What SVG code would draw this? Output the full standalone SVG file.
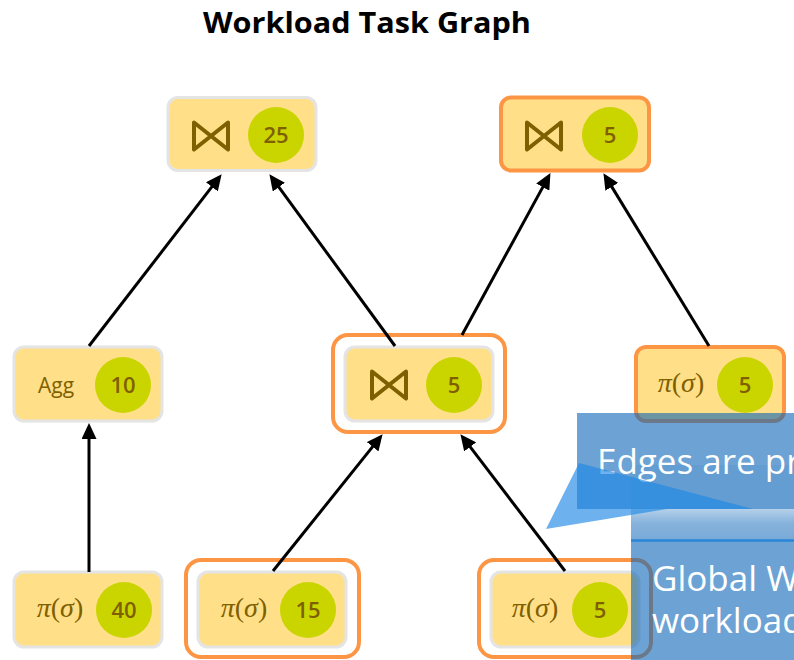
<svg xmlns="http://www.w3.org/2000/svg" width="794" height="660" viewBox="0 0 794 660">
  <defs>
    <style>
      .title{font-family:"Open Sans","Noto Sans","Liberation Sans",sans-serif;font-size:29px;font-weight:700;fill:#000;text-anchor:middle}
      .box{fill:#FFDF88;stroke:#E4E4E4;stroke-width:3}
      .box.hot{stroke:#FD9644;stroke-width:4}
      .ring{fill:none;stroke:#FD9644;stroke-width:4}
      .cost{fill:#CAD500}
      .num{font-family:"Open Sans","Noto Sans","Liberation Sans",sans-serif;font-size:22px;font-weight:600;fill:#7F6000;text-anchor:middle}
      .lbl{font-family:"Open Sans","Noto Sans","Liberation Sans",sans-serif;font-size:21px;fill:#7F6000;text-anchor:middle}
      .op{font-family:"Liberation Serif","DejaVu Serif",serif;font-size:28px;fill:#7F6000;text-anchor:middle}
      .join{fill:none;stroke:#7F6000;stroke-width:4;stroke-linejoin:round}
      .edge{stroke:#000;stroke-width:3;fill:none;marker-end:url(#arrow)}
      .callout{fill:#0A64B8;fill-opacity:0.6}
      .note{font-family:"Open Sans","Noto Sans","Liberation Sans",sans-serif;font-size:35px;fill:#fff}
    </style>
    <marker id="arrow" markerUnits="userSpaceOnUse" viewBox="0 -7.5 16 15" refX="4" refY="0" markerWidth="16" markerHeight="15" orient="auto">
      <path d="M0,-7.5 L16,0 L0,7.5 z" fill="#000"/>
    </marker>
    <path id="bowtie" class="join" d="M-17,-13.5 L17,13.5 L17,-13.5 L-17,13.5 Z"/>
    <linearGradient id="fadeTop" x1="0" y1="0" x2="0" y2="1">
      <stop offset="0" stop-color="#fff" stop-opacity="0.5"/>
      <stop offset="0.45" stop-color="#fff" stop-opacity="0.18"/>
      <stop offset="1" stop-color="#fff" stop-opacity="0.08"/>
    </linearGradient>
  </defs>

  <text class="title" x="367" y="33" textLength="328" lengthAdjust="spacingAndGlyphs">Workload Task Graph</text>

  <!-- top row: joins -->
  <g id="join-top-left">
    <rect class="box" x="168" y="97.5" width="148" height="73" rx="10"/>
    <use href="#bowtie" x="211" y="136"/>
    <circle class="cost" cx="276" cy="135" r="28"/>
    <text class="num" x="276" y="143">25</text>
  </g>
  <g id="join-top-right">
    <rect class="box hot" x="501" y="97.5" width="148" height="73" rx="10"/>
    <use href="#bowtie" x="544" y="136"/>
    <circle class="cost" cx="610" cy="135" r="28"/>
    <text class="num" x="610" y="143">5</text>
  </g>

  <!-- middle row -->
  <g id="agg">
    <rect class="box" x="14" y="347" width="148" height="74" rx="10"/>
    <text class="lbl" x="56" y="393">Agg</text>
    <circle class="cost" cx="123" cy="385" r="28"/>
    <text class="num" x="123" y="393">10</text>
  </g>
  <g id="join-mid">
    <rect class="ring" x="333" y="335" width="172" height="97" rx="15"/>
    <rect class="box" x="345" y="347" width="148" height="74" rx="10"/>
    <use href="#bowtie" x="389" y="385"/>
    <circle class="cost" cx="454" cy="385" r="28"/>
    <text class="num" x="454" y="393">5</text>
  </g>
  <g id="scan-mid-right">
    <rect class="box hot" x="636" y="347" width="148" height="74" rx="10"/>
    <text class="op" x="681" y="392"><tspan font-style="italic">π</tspan>(<tspan font-style="italic">σ</tspan>)</text>
    <circle class="cost" cx="745" cy="385" r="28"/>
    <text class="num" x="745" y="393">5</text>
  </g>

  <!-- bottom row: scans -->
  <g id="scan-40">
    <rect class="box" x="14" y="572" width="148" height="75" rx="10"/>
    <text class="op" x="60" y="617"><tspan font-style="italic">π</tspan>(<tspan font-style="italic">σ</tspan>)</text>
    <circle class="cost" cx="124" cy="610" r="28"/>
    <text class="num" x="124" y="618">40</text>
  </g>
  <g id="scan-15">
    <rect class="ring" x="186" y="560" width="173" height="97" rx="15"/>
    <rect class="box" x="198" y="572" width="148" height="75" rx="10"/>
    <text class="op" x="244" y="617"><tspan font-style="italic">π</tspan>(<tspan font-style="italic">σ</tspan>)</text>
    <circle class="cost" cx="308" cy="610" r="28"/>
    <text class="num" x="308" y="618">15</text>
  </g>
  <g id="scan-5">
    <rect class="ring" x="479" y="560" width="172" height="97" rx="15"/>
    <rect class="box" x="491" y="572" width="148" height="75" rx="10"/>
    <text class="op" x="535" y="617"><tspan font-style="italic">π</tspan>(<tspan font-style="italic">σ</tspan>)</text>
    <circle class="cost" cx="600" cy="610" r="28"/>
    <text class="num" x="600" y="618">5</text>
  </g>

  <!-- connectors -->
  <g id="edges">
    <line class="edge" x1="89" y1="346" x2="214.3" y2="183.7"/>
    <line class="edge" x1="395" y1="346" x2="276.5" y2="183.9"/>
    <line class="edge" x1="462" y1="335" x2="544.7" y2="183.6"/>
    <line class="edge" x1="709" y1="346" x2="609.7" y2="183.4"/>
    <line class="edge" x1="89" y1="572" x2="89" y2="435"/>
    <line class="edge" x1="273" y1="571" x2="375.1" y2="443.6"/>
    <line class="edge" x1="565" y1="571" x2="467.7" y2="443.7"/>
  </g>

  <!-- lower note -->
  <g id="note-global">
    <rect x="631" y="465" width="170" height="44" fill="#0A64B8" fill-opacity="0.08"/>
    <rect class="callout" x="631" y="509" width="170" height="160"/>
    <rect x="631" y="509" width="170" height="31" fill="url(#fadeTop)"/>
    <line x1="631" y1="540.5" x2="794" y2="540.5" stroke="#2A86DA" stroke-width="2.5"/>
    <text class="note" x="652" y="591">Global W</text>
    <text class="note" x="652" y="633">workload</text>
  </g>

  <!-- upper note -->
  <g id="note-edges">
    <rect class="callout" x="577" y="413" width="230" height="96"/>
    <text class="note" x="597" y="474">Edges are pr</text>
    <polygon points="579,463 753,509 667,509 546,529" fill="#1E88E5" fill-opacity="0.65"/>
  </g>
</svg>
